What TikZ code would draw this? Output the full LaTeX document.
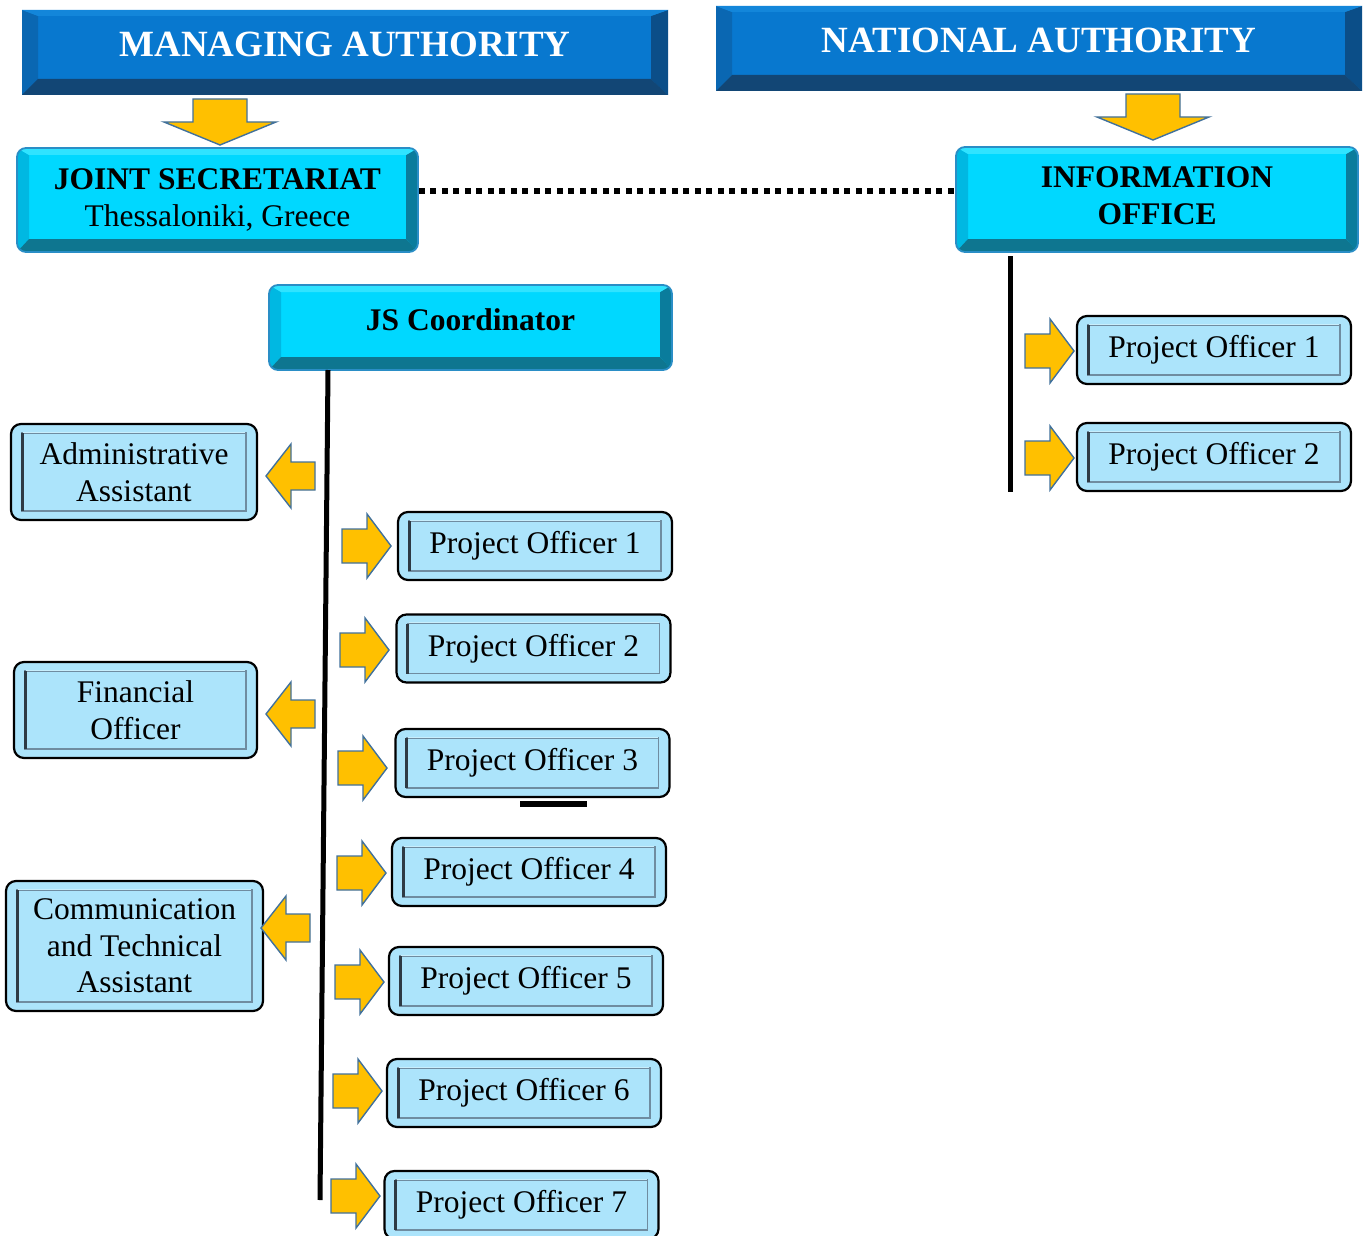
\documentclass[tikz,border=0pt]{standalone}
\usepackage{fontspec}
\setmainfont{Liberation Serif}
\usetikzlibrary{calc}
\definecolor{maface}{HTML}{0878CF}
\definecolor{matop}{HTML}{1386DA}
\definecolor{maleft}{HTML}{0A67B2}
\definecolor{maright}{HTML}{0B4E88}
\definecolor{mabot}{HTML}{124675}
\definecolor{cyface}{HTML}{00D8FF}
\definecolor{cytop}{HTML}{30E3FF}
\definecolor{cyleft}{HTML}{00B8E2}
\definecolor{cyright}{HTML}{0A7C9C}
\definecolor{cybot}{HTML}{0E7690}
\definecolor{cyedge}{HTML}{2A8EC6}
\definecolor{ltface}{HTML}{ACE4FB}
\definecolor{ltframe}{HTML}{6F8CA0}
\definecolor{ltlight}{HTML}{C8EEFC}
\definecolor{ltdark}{HTML}{2E3A44}
\definecolor{arrfill}{HTML}{FFC000}
\definecolor{arredge}{HTML}{41719C}
\tikzset{
  bevel/.style n args={8}{% L R T B leftcol rightcol topcol bottomcol
    path picture={
      \path (path picture bounding box.south west) coordinate (bSW)
            (path picture bounding box.north east) coordinate (bNE)
            (bSW -| bNE) coordinate (bSE)
            (bNE -| bSW) coordinate (bNW);
      \fill[#5, sharp corners] (bSW) -- (bNW) -- ([shift={(#1,-#3)}]bNW) -- ([shift={(#1,#4)}]bSW) -- cycle;
      \fill[#6, sharp corners] (bSE) -- (bNE) -- ([shift={(-#2,-#3)}]bNE) -- ([shift={(-#2,#4)}]bSE) -- cycle;
      \fill[#7, sharp corners] (bNW) -- (bNE) -- ([shift={(-#2,-#3)}]bNE) -- ([shift={(#1,-#3)}]bNW) -- cycle;
      \fill[#8, sharp corners] (bSW) -- (bSE) -- ([shift={(-#2,#4)}]bSE) -- ([shift={(#1,#4)}]bSW) -- cycle;
    }},
  regfont/.style={font=\fontsize{31.5pt}{36.5pt}\selectfont},
  mabox/.style={fill=maface, inner sep=0pt, text=white, text depth=16pt,
    font=\fontsize{37pt}{42pt}\selectfont\bfseries,
    minimum width=646pt, minimum height=85pt,
    bevel={16pt}{17pt}{6pt}{16pt}{maleft}{maright}{matop}{mabot}},
  cybox/.style={fill=cyface, draw=cyedge, line width=1.8pt, rounded corners=9pt,
    inner sep=0pt, align=center, regfont,
    bevel={12pt}{12pt}{7pt}{13pt}{cyleft}{cyright}{cytop}{cybot}},
  ltbox/.style={fill=ltface, draw=black, line width=2.2pt, rounded corners=10pt,
    inner sep=0pt, align=center, regfont,
    path picture={
      \path (path picture bounding box.south west) coordinate (bSW)
            (path picture bounding box.north east) coordinate (bNE)
            (bSW -| bNE) coordinate (bSE)
            (bNE -| bSW) coordinate (bNW);
      \draw[ltframe, line width=1.4pt, sharp corners] ([shift={(11pt,9pt)}]bSW) rectangle ([shift={(-11pt,-9pt)}]bNE);
      \draw[ltlight, line width=1pt, sharp corners] ([shift={(12pt,-8pt)}]bNW) -- ([shift={(-12pt,-8pt)}]bNE);
      \draw[ltdark, line width=3pt, sharp corners] ([shift={(11pt,9pt)}]bSW) -- ([shift={(11pt,-9pt)}]bNW);
    }},
  pobox/.style={ltbox, minimum width=274pt, minimum height=68pt},
  arrowsty/.style={fill=arrfill, draw=arredge, line width=1.4pt, line join=miter},
  rarr/.pic={\draw[arrowsty] (0,0) -- (-24,-32) -- (-24,-17) -- (-49,-17) -- (-49,17) -- (-24,17) -- (-24,32) -- cycle;},
  larr/.pic={\draw[arrowsty] (0,0) -- (25,-32) -- (25,-14) -- (49,-14) -- (49,14) -- (25,14) -- (25,32) -- cycle;},
  darr/.pic={\draw[arrowsty] (0,0) -- (-56,-23) -- (-27,-23) -- (-27,-46) -- (27,-46) -- (27,-23) -- (56,-23) -- cycle;},
  vline/.style={line width=5pt, black},
  dotline/.style={line width=5.5pt, black, dash pattern=on 6pt off 5.5pt},
}
\begin{document}
\begin{tikzpicture}[x=1pt,y=-1pt]
\useasboundingbox[fill=white] (0,0) rectangle (1366,1236);

% banners
\node[mabox] (ma) at (345,52.5) {MANAGING AUTHORITY};
\node[mabox] (na) at (1039,48.5) {NATIONAL AUTHORITY};
\pic at (220,145) {darr};
\pic at (1153,140) {darr};

% cyan boxes
\node[cybox, minimum width=401pt, minimum height=104pt] (js) at (217.5,200)
  {\textbf{JOINT SECRETARIAT}\\Thessaloniki, Greece};
\node[cybox, minimum width=402pt, minimum height=105pt] (info) at (1157,199.5)
  {\textbf{INFORMATION}\\\textbf{OFFICE}\\[-29pt]\mbox{}};
\node[cybox, minimum width=403pt, minimum height=85pt, text depth=16pt] (jsc) at (470.5,327.5)
  {\textbf{JS Coordinator}};

% dotted link
\draw[dotline] ([yshift=9pt]js.east) -- ([yshift=8.5pt]info.west);

% vertical lines
\coordinate (lt) at (328,370);
\coordinate (lb) at (320,1200);
\draw[vline] (lt) -- (lb);
\coordinate (rt) at (1010,256);
\coordinate (rb) at (1010,492);
\draw[vline] (rt) -- (rb);

% left staff boxes
\node[ltbox, minimum width=246pt, minimum height=96pt] (admin) at (134,472) {Administrative\\Assistant};
\node[ltbox, minimum width=243pt, minimum height=96pt] (fin) at (135.5,710) {Financial\\Officer};
\node[ltbox, minimum width=257pt, minimum height=130pt] (comm) at (134.5,946) {Communication\\and Technical\\Assistant};
\pic at (266,476) {larr};
\pic at (266,714) {larr};
\pic at (261,928) {larr};

% project officers (JS)
\node[pobox] (po1) at (535,546) {Project Officer 1};
\node[pobox] (po2) at (533.5,648.5) {Project Officer 2};
\node[pobox] (po3) at (532.5,763) {Project Officer 3};
\node[pobox] (po4) at (529,872) {Project Officer 4};
\node[pobox] (po5) at (526,981) {Project Officer 5};
\node[pobox] (po6) at (524,1093) {Project Officer 6};
\node[pobox] (po7) at (521.5,1205) {Project Officer 7};
\pic at (391,546) {rarr};
\pic at (389,650) {rarr};
\pic at (387,768) {rarr};
\pic at (386,873) {rarr};
\pic at (384,982) {rarr};
\pic at (382,1091) {rarr};
\pic at (380,1196) {rarr};
\fill[black] (520,801) rectangle (587,807);

% project officers (information office)
\node[pobox] (rpo1) at (1214,350) {Project Officer 1};
\node[pobox] (rpo2) at (1214,457) {Project Officer 2};
\pic at (1074,351) {rarr};
\pic at (1074,458) {rarr};
\end{tikzpicture}
\end{document}
